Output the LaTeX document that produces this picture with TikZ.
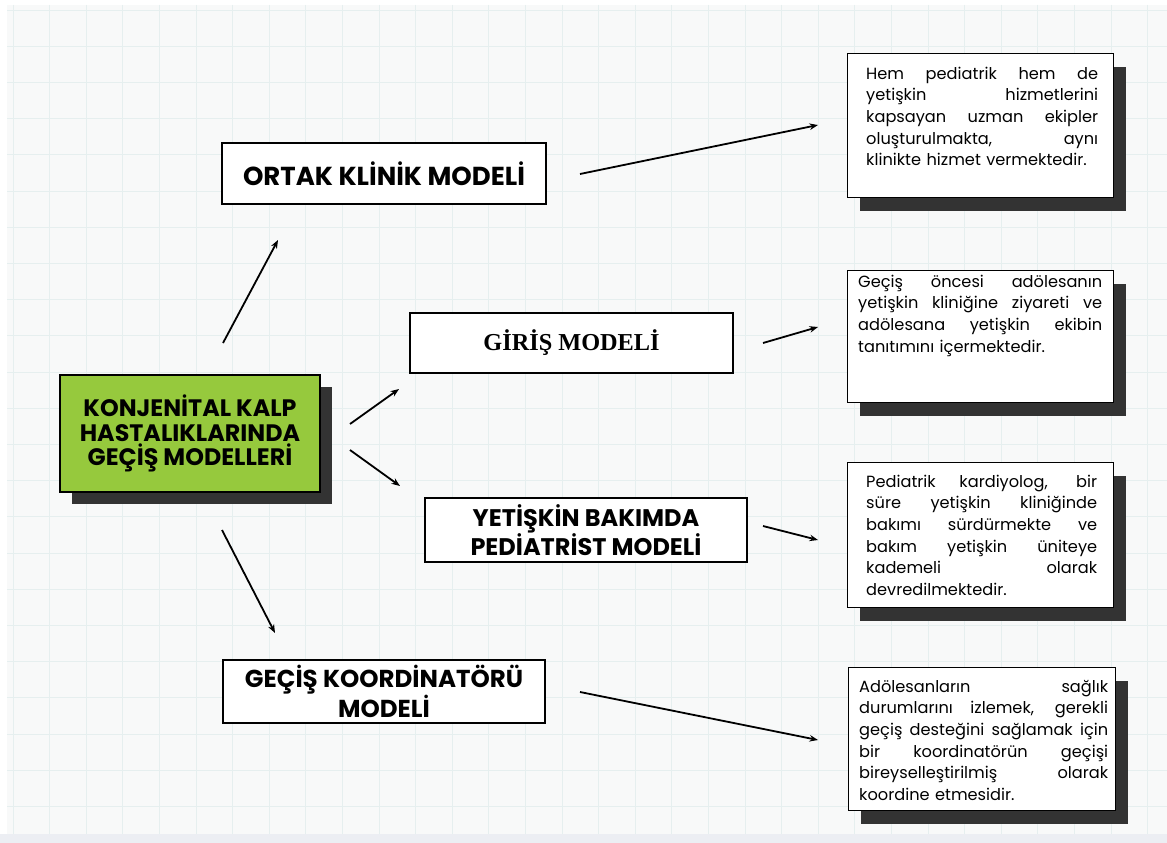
\documentclass[tikz,border=0pt]{standalone}
\usepackage{fontspec}
\setmainfont{Poppins}
\newfontfamily\serifbold{Liberation Serif}
\usetikzlibrary{arrows.meta,shadows}
\definecolor{paper}{HTML}{F8F9F9}
\definecolor{gridc}{HTML}{E6EFEF}
\definecolor{strip}{HTML}{ECEEF3}
\definecolor{lime}{HTML}{96C93D}
\definecolor{shade}{HTML}{333333}
\newcommand\jl[1]{\makebox[\hsize][s]{\spaceskip=0.28em plus 1fil\relax #1}\\}
\tikzset{
  model/.style={draw=black, line width=1.6pt, fill=white, inner sep=0pt, align=center,
    font=\bfseries\fontsize{24.5}{28}\selectfont},
  mainbox/.style={draw=black, line width=1.6pt, fill=lime, inner sep=0pt, align=center,
    minimum width=260pt, minimum height=117pt,
    font=\bfseries\fontsize{23.8}{24.5}\selectfont,
    drop shadow={shadow xshift=12pt, shadow yshift=-12pt, fill=shade, opacity=1}},
  infobox/.style={draw=black, line width=1.4pt, fill=white, inner sep=0pt, anchor=north west,
    minimum width=266pt,
    drop shadow={shadow xshift=12pt, shadow yshift=-13pt, fill=shade, opacity=1}},
  info/.style={inner sep=0pt, anchor=base west, align=left,
    font=\fontsize{16.2}{21.7}\selectfont},
  arr/.style={line width=1.8pt, -{Stealth[length=8.5pt,width=6.5pt]}},
}
\begin{document}
\begin{tikzpicture}[x=1pt,y=-1pt]
\useasboundingbox (0,0) rectangle (1167,843);
\fill[white] (0,0) rectangle (1167,843);
\fill[paper] (7,5) rectangle (1167,834);
\begin{scope}
\clip (7,5) rectangle (1167,834);
\foreach \i in {0,...,31} {\draw[gridc, line width=0.8pt] (13+36.6*\i,5) -- (13+36.6*\i,834);}
\foreach \j in {0,...,22} {\draw[gridc, line width=0.8pt] (7,10+36.2*\j) -- (1167,10+36.2*\j);}
\end{scope}
\fill[strip] (0,834) rectangle (1167,843);

% main box
\node[mainbox] (main) at (190,433.5) {KONJENİTAL KALP\\HASTALIKLARINDA\\GEÇİŞ MODELLERİ};

% model boxes
\node[model, minimum width=324pt, minimum height=61pt, font=\bfseries\fontsize{26}{28}\selectfont] (ortak) at (384,173.5) {ORTAK KLİNİK MODELİ};
\node[model, minimum width=323pt, minimum height=60pt, font=\serifbold\bfseries\fontsize{24.3}{26}\selectfont] (giris) at (571.5,343) {GİRİŞ MODELİ};
\node[model, minimum width=322pt, minimum height=64pt, font=\bfseries\fontsize{24}{28}\selectfont] (yetiskin) at (586,530) {YETİŞKİN BAKIMDA\\PEDİATRİST MODELİ};
\node[model, minimum width=322pt, minimum height=63pt, font=\bfseries\fontsize{24.5}{30}\selectfont] (koord) at (384,691.5) {GEÇİŞ KOORDİNATÖRÜ\\MODELİ};

% info boxes
\node[infobox, minimum height=144pt] (b1) at (847,53) {};
\node[info, text width=232pt] (t1) at (866,79) {\jl{Hem pediatrik hem de}\jl{yetişkin hizmetlerini}\jl{kapsayan uzman ekipler}\jl{oluşturulmakta, aynı}klinikte hizmet vermektedir.};

\node[infobox, minimum height=132pt] (b2) at (847,270) {};
\node[info, text width=244pt] (t2) at (858,287) {\jl{Geçiş öncesi adölesanın}\jl{yetişkin kliniğine ziyareti ve}\jl{adölesana yetişkin ekibin}tanıtımını içermektedir.};

\node[infobox, minimum height=145pt] (b3) at (847,462) {};
\node[info, text width=231pt] (t3) at (866,487) {\jl{Pediatrik kardiyolog, bir}\jl{süre yetişkin kliniğinde}\jl{bakımı sürdürmekte ve}\jl{bakım yetişkin üniteye}\jl{kademeli olarak}devredilmektedir.};

\node[infobox, minimum height=143pt, minimum width=267pt] (b4) at (848,667) {};
\node[info, text width=249pt] (t4) at (859,692) {\jl{Adölesanların sağlık}\jl{durumlarını izlemek, gerekli}\jl{geçiş desteğini sağlamak için}\jl{bir koordinatörün geçişi}\jl{bireyselleştirilmiş olarak}koordine etmesidir.};

% arrow end points
\coordinate (a1s) at (223,343); \coordinate (a1e) at (278,240);
\coordinate (a2s) at (350,424); \coordinate (a2e) at (399,389);
\coordinate (a3s) at (350,450); \coordinate (a3e) at (400,486);
\coordinate (a4s) at (222,530); \coordinate (a4e) at (275,633);
\coordinate (a5s) at (580,174); \coordinate (a5e) at (818,125);
\coordinate (a6s) at (763,343); \coordinate (a6e) at (818,327);
\coordinate (a7s) at (763,526); \coordinate (a7e) at (818,540);
\coordinate (a8s) at (580,692); \coordinate (a8e) at (818,740);
\foreach \k in {1,...,8} {\draw[arr] (a\k s) -- (a\k e);}
\end{tikzpicture}
\end{document}
